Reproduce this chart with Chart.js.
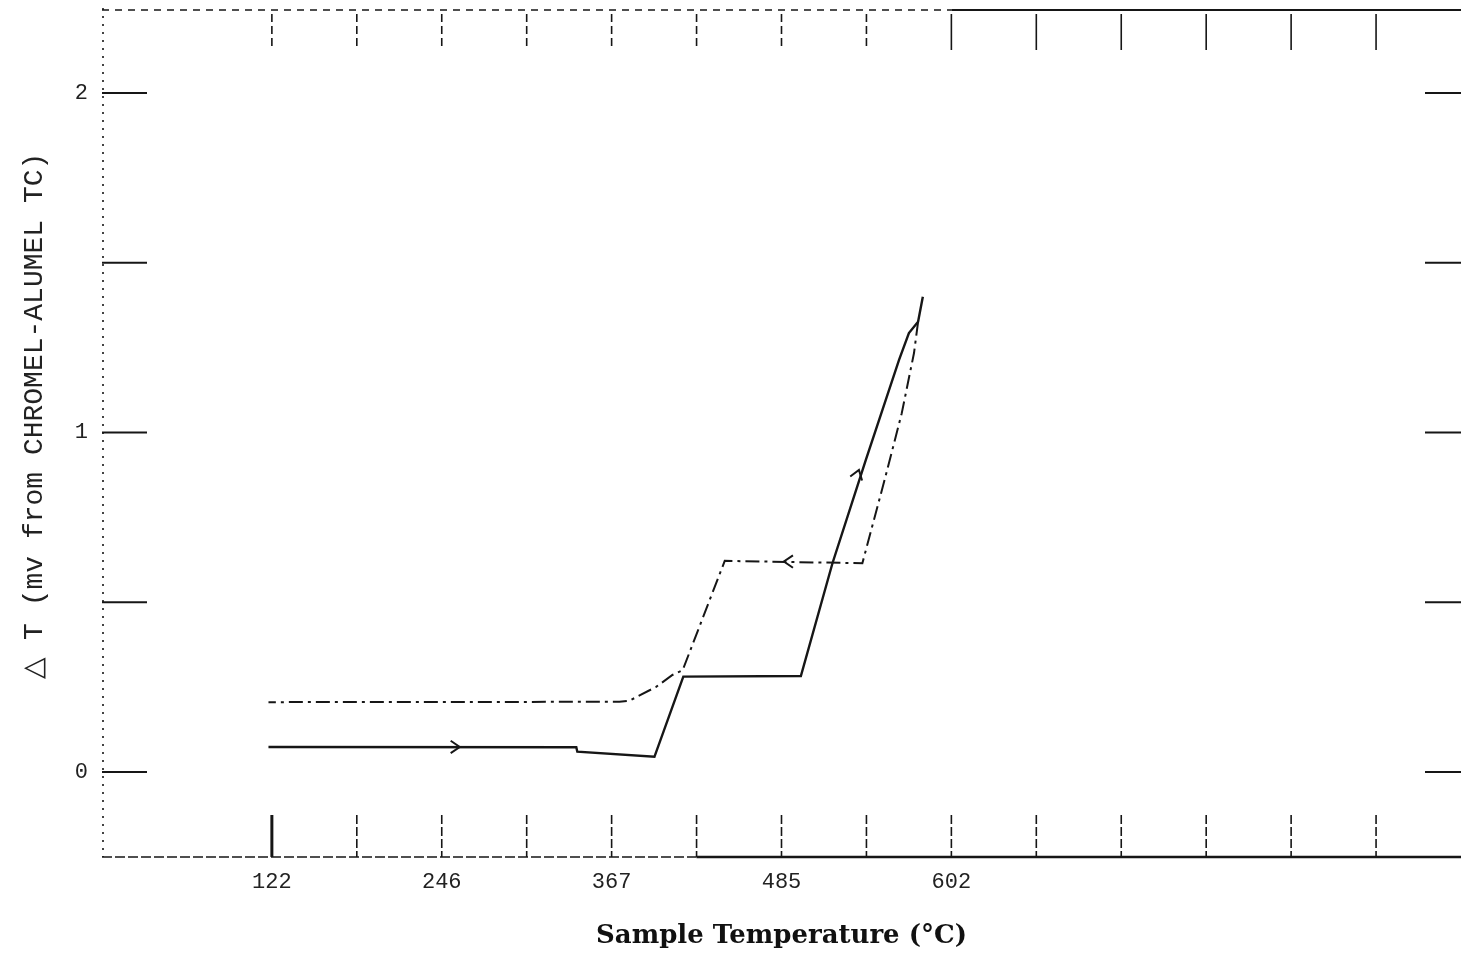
<!DOCTYPE html>
<html><head><meta charset="utf-8">
<script src="https://cdn.jsdelivr.net/npm/chart.js@4/dist/chart.umd.min.js"></script>
<style>html,body{margin:0;padding:0;background:#fff}canvas{display:block}</style>
</head><body>
<canvas id="c" width="1461" height="961"></canvas>
<script>
// x values: chromel-alumel thermocouple reading (mV) of the sample; labels give °C
const heatingX = [4.90, 13.96, 13.99, 16.26, 17.11, 20.57, 21.50, 22.48, 23.46, 23.75, 24.02, 24.16];
const heatingY = [0.074, 0.073, 0.060, 0.045, 0.281, 0.283, 0.615, 0.919, 1.214, 1.293, 1.326, 1.400];
const coolingX = [24.02, 23.90, 23.54, 23.06, 22.38, 18.33, 17.09, 16.79, 16.31, 15.52, 15.23, 4.90];
const coolingY = [1.326, 1.234, 1.057, 0.870, 0.615, 0.622, 0.300, 0.286, 0.251, 0.210, 0.207, 0.206];

const xTickValues = [5, 10, 15, 20, 25];
const xTickLabels = ['122', '246', '367', '485', '602'];
const xMarkValues = [5, 7.5, 10, 12.5, 15, 17.5, 20, 22.5, 25, 27.5, 30, 32.5, 35, 37.5];
const yTickValues = [0, 1, 2];
const yTickLabels = ['0', '1', '2'];
const yMarkValues = [0, 0.5, 1, 1.5, 2];

const arrowX = [10.53, 20.07, 22.28];
const arrowY = [0.074, 0.620, 0.890];
const arrowAngle = [0, 180, -72];

const INK = '#161616';

function seg(ctx, x1, y1, x2, y2) { ctx.beginPath(); ctx.moveTo(x1, y1); ctx.lineTo(x2, y2); ctx.stroke(); }

const framePlugin = {
  id: 'frame',
  afterDatasetsDraw(chart) {
    const { ctx, chartArea: a, scales: { x, y } } = chart;
    ctx.save();
    ctx.strokeStyle = INK;
    ctx.lineCap = 'butt';
    // left border (dotted)
    ctx.lineWidth = 1.6; ctx.setLineDash([2, 6]);
    seg(ctx, a.left + 1, a.top, a.left + 1, a.bottom);
    // top border
    const split = x.getPixelForValue(25);
    ctx.lineWidth = 1.4; ctx.setLineDash([7, 6]);
    seg(ctx, a.left, a.top + 2, split, a.top + 2);
    ctx.setLineDash([]); ctx.lineWidth = 2.2;
    seg(ctx, split, a.top + 2, a.right, a.top + 2);
    // bottom border
    ctx.lineWidth = 1.6; ctx.setLineDash([10, 3]);
    seg(ctx, a.left, a.bottom, x.getPixelForValue(17.5), a.bottom);
    ctx.setLineDash([]); ctx.lineWidth = 2.6;
    seg(ctx, x.getPixelForValue(17.5), a.bottom, a.right, a.bottom);
    // y marks, left and right
    ctx.lineWidth = 2;
    yMarkValues.forEach(v => {
      const py = y.getPixelForValue(v);
      seg(ctx, a.left, py, a.left + 45, py);
      seg(ctx, a.right - 36, py, a.right, py);
    });
    // x marks, bottom and top
    xMarkValues.forEach((v, i) => {
      const px = x.getPixelForValue(v);
      ctx.lineWidth = i === 0 ? 3 : 1.6;
      ctx.setLineDash(i === 0 ? [] : [9, 3]);
      seg(ctx, px, a.bottom - 42, px, a.bottom);
      ctx.lineWidth = 1.6;
      ctx.setLineDash(v >= 25 ? [] : [8, 4]);
      seg(ctx, px, a.top + 6, px, a.top + 42);
    });
    // direction arrows
    ctx.setLineDash([]); ctx.lineWidth = 2;
    arrowX.forEach((v, i) => {
      const px = x.getPixelForValue(v), py = y.getPixelForValue(arrowY[i]);
      const t = arrowAngle[i] * Math.PI / 180, L = 11, w = 0.6;
      ctx.beginPath();
      ctx.moveTo(px - L * Math.cos(t - w), py - L * Math.sin(t - w));
      ctx.lineTo(px, py);
      ctx.lineTo(px - L * Math.cos(t + w), py - L * Math.sin(t + w));
      ctx.stroke();
    });
    ctx.restore();
  }
};

const pts = (xs, ys) => xs.map((v, i) => ({ x: v, y: ys[i] }));

new Chart(document.getElementById('c'), {
  type: 'scatter',
  data: {
    datasets: [
      { label: 'heating', data: pts(heatingX, heatingY), showLine: true, borderColor: INK, borderWidth: 2.4, pointRadius: 0, tension: 0 },
      { label: 'cooling', data: pts(coolingX, coolingY), showLine: true, borderColor: INK, borderWidth: 2, borderDash: [14, 5, 3, 5], pointRadius: 0, tension: 0 }
    ]
  },
  options: {
    responsive: false,
    devicePixelRatio: 1,
    animation: false,
    layout: { padding: { top: 8, right: 0, left: 0, bottom: 0 } },
    plugins: { legend: { display: false }, tooltip: { enabled: false } },
    scales: {
      x: {
        type: 'linear', min: 0, max: 40,
        grid: { display: false, drawTicks: false },
        border: { display: false },
        afterBuildTicks: s => { s.ticks = xTickValues.map(v => ({ value: v })); },
        afterFit: s => { s.height = 104; s.paddingLeft = 0; s.paddingRight = 0; },
        ticks: {
          autoSkip: false, maxRotation: 0, padding: 12, color: '#222',
          font: { family: 'Liberation Mono', size: 22 },
          callback: (v, i) => xTickLabels[i]
        },
        title: {
          display: true, text: 'Sample Temperature (°C)', color: '#111',
          font: { family: 'DejaVu Serif', size: 26, weight: 'bold', lineHeight: 1 },
          padding: { top: 0, bottom: 12 }
        }
      },
      y: {
        type: 'linear', min: -0.25, max: 2.25,
        grid: { display: false, drawTicks: false },
        border: { display: false },
        afterBuildTicks: s => { s.ticks = yTickValues.map(v => ({ value: v })); },
        afterFit: s => { s.width = 102; s.paddingTop = 0; s.paddingBottom = 0; },
        ticks: {
          padding: 14, color: '#222',
          font: { family: 'Liberation Mono', size: 22 },
          callback: (v, i) => yTickLabels[i]
        },
        title: {
          display: true, text: '  △ T (mv from CHROMEL-ALUMEL TC)', color: '#222',
          font: { family: 'Liberation Mono', size: 28, lineHeight: 1 },
          padding: { top: 21, bottom: 0 }
        }
      }
    }
  },
  plugins: [framePlugin]
});
</script>
</body></html>
